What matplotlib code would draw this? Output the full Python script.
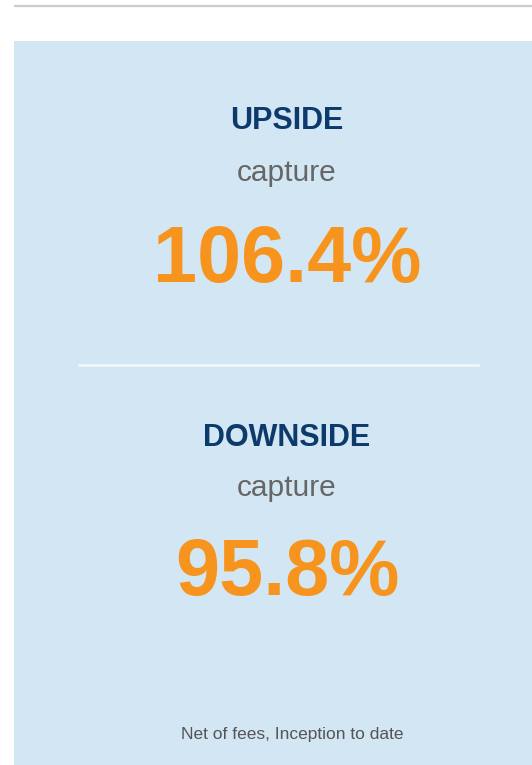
import matplotlib
matplotlib.use('Agg')
from matplotlib import pyplot as plt

# capture ratios, net of fees
labels = ["UPSIDE", "DOWNSIDE"]
sublabels = ["capture", "capture"]
values = [106.4, 95.8]
footnote = "Net of fees, Inception to date"

plt.rcParams['font.family'] = ['Liberation Sans', 'DejaVu Sans']

W, H = 532, 765
fig = plt.figure(figsize=(W / 100, H / 100), dpi=100)
ax = fig.add_axes([0, 0, 1, 1])
ax.set_xlim(0, W)
ax.set_ylim(H, 0)
ax.axis('off')

# thin grey rule on top and the light blue panel
ax.plot([14, W], [6, 6], color='#cccccc', lw=1.6, solid_capstyle='butt')
ax.add_patch(plt.Rectangle((14, 41), W - 14, H - 41, facecolor='#d2e6f4',
                           edgecolor='none'))
# white separator between the two blocks
ax.plot([79, 478], [364.5, 364.5], color='#f2f8fc', lw=1.8)

cx = 287
baselines = [(129, 181, 282), (446, 496, 595)]
for lab, sub, val, (b1, b2, b3) in zip(labels, sublabels, values, baselines):
    ax.text(cx, b1, lab, ha='center', va='baseline', fontsize=22,
            fontweight='bold', color='#0c3a6b')
    ax.text(cx, b2, sub, ha='center', va='baseline', fontsize=21.5,
            color='#666666')
    ax.text(cx, b3, '%.1f%%' % val, ha='center', va='baseline',
            fontsize=57, fontweight='bold', color='#f7941d')

ax.text(cx + 5, 739, footnote, ha='center', va='baseline', fontsize=12.5,
        color='#555555')

fig.savefig('out.png', dpi=100)
